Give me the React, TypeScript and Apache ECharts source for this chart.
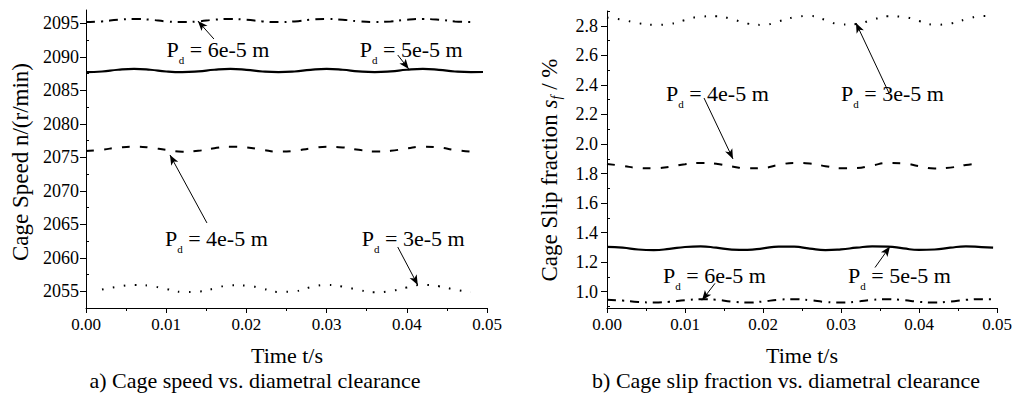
import React, { useEffect, useRef } from "react";
import * as echarts from "echarts";

const FONT = "Liberation Serif";

// time samples (s)
const TIME = [0, 0.002, 0.004, 0.006, 0.008, 0.01, 0.012, 0.014, 0.016, 0.018, 0.02, 0.022, 0.024,
  0.026, 0.028, 0.03, 0.032, 0.034, 0.036, 0.038, 0.04, 0.042, 0.044, 0.046, 0.048, 0.0495];

// a) cage speed n (r/min)
const SPEED_6E5 = [2095.2, 2095.3, 2095.55, 2095.65, 2095.55, 2095.3, 2095.2, 2095.3, 2095.55, 2095.65, 2095.55, 2095.3, 2095.2,
  2095.3, 2095.55, 2095.65, 2095.55, 2095.3, 2095.2, 2095.3, 2095.55, 2095.65, 2095.55, 2095.3, 2095.2, null];
const SPEED_5E5 = [2087.72, 2087.82, 2088.08, 2088.2, 2088.08, 2087.82, 2087.72, 2087.83, 2088.08, 2088.2, 2088.07, 2087.82, 2087.72,
  2087.82, 2088.07, 2088.2, 2088.08, 2087.83, 2087.72, 2087.83, 2088.08, 2088.2, 2088.07, 2087.82, 2087.72, 2087.74];
const SPEED_4E5 = [2075.95, 2076.15, 2076.45, 2076.6, 2076.45, 2076.1, 2075.85, 2075.98, 2076.35, 2076.58, 2076.48, 2076.12, 2075.85,
  2075.97, 2076.33, 2076.58, 2076.48, 2076.12, 2075.86, 2075.97, 2076.33, 2076.58, 2076.48, 2076.1, 2075.85, null];
const SPEED_3E5 = [null, 2055.25, 2055.7, 2055.95, 2055.8, 2055.35, 2054.9, 2054.95, 2055.4, 2055.9, 2055.85, 2055.4, 2054.9,
  2055.0, 2055.6, 2055.95, 2055.7, 2055.2, 2054.85, 2055.05, 2055.55, 2055.95, 2055.75, 2055.25, 2054.9, null];

// b) cage slip fraction (%)
const SLIP_3E5 = [2.855, 2.84, 2.818, 2.806, 2.812, 2.838, 2.862, 2.865, 2.845, 2.815, 2.806, 2.83, 2.858,
  2.866, 2.84, 2.808, 2.812, 2.84, 2.864, 2.86, 2.832, 2.807, 2.815, 2.843, 2.865, 2.866];
const SLIP_4E5 = [1.865, 1.852, 1.838, 1.835, 1.845, 1.863, 1.872, 1.866, 1.848, 1.835, 1.838, 1.858, 1.872,
  1.868, 1.85, 1.835, 1.837, 1.855, 1.871, 1.869, 1.85, 1.834, 1.84, 1.858, 1.871, null];
const SLIP_5E5 = [1.303, 1.298, 1.286, 1.282, 1.29, 1.303, 1.307, 1.298, 1.285, 1.283, 1.294, 1.306, 1.305,
  1.292, 1.282, 1.287, 1.298, 1.307, 1.306, 1.293, 1.283, 1.286, 1.298, 1.307, 1.302, 1.298];
const SLIP_6E5 = [0.945, 0.94, 0.931, 0.927, 0.932, 0.942, 0.949, 0.946, 0.933, 0.927, 0.934, 0.946, 0.95,
  0.943, 0.931, 0.927, 0.933, 0.945, 0.95, 0.943, 0.932, 0.927, 0.934, 0.945, 0.95, 0.949];

// axis ticks
const X_MAJOR_MAX = 0.05;
const SPEED_MAJOR = [2055, 2060, 2065, 2070, 2075, 2080, 2085, 2090, 2095];
const SPEED_MINOR = [2057.5, 2062.5, 2067.5, 2072.5, 2077.5, 2082.5, 2087.5, 2092.5];
const SLIP_MAJOR = [1.0, 1.2, 1.4, 1.6, 1.8, 2.0, 2.2, 2.4, 2.6, 2.8];
const SLIP_MINOR = [0.9, 1.1, 1.3, 1.5, 1.7, 1.9, 2.1, 2.3, 2.5, 2.7, 2.9];

// annotation labels (P_d values) and anchors in data coordinates
const SPEED_LABELS = ["6e-5", "5e-5", "4e-5", "3e-5"];
const SPEED_LABEL_AT = [[0.01005, 2091.12], [0.03414, 2091.12], [0.00984, 2062.9], [0.03439, 2062.9]];
const SPEED_ARROWS = [
  [[0.01595, 2092.67], [0.01395, 2095.36]],
  [[0.03887, 2090.28], [0.04024, 2088.19]],
  [[0.01508, 2065.2], [0.01047, 2075.35]],
  [[0.03887, 2061.61], [0.04137, 2055.93]],
];
const SLIP_LABELS = ["4e-5", "3e-5", "6e-5", "5e-5"];
const SLIP_LABEL_AT = [[0.00756, 2.343], [0.03, 2.343], [0.00718, 1.111], [0.0309, 1.111]];
const SLIP_ARROWS = [
  [[0.01244, 2.311], [0.01615, 1.899]],
  [[0.03615, 2.345], [0.03192, 2.819]],
  [[0.01385, 1.057], [0.01218, 0.942]],
  [[0.03436, 1.164], [0.03628, 1.306]],
];

const SOLID = { type: "solid" as any, width: 2.2 };
const DASHED = { type: [8, 10] as any, width: 2 };
const DOTTED = { type: [1.6, 9.4] as any, width: 2 };
const DASHDOT = { type: [9, 6, 2, 6] as any, width: 2 };

function pairs(vals: (number | null)[]) {
  return TIME.map((t, i) => [t, vals[i]]);
}

function arrowLines(arrows: number[][][]) {
  return {
    silent: true,
    symbol: ["none", "arrow"],
    label: { show: false },
    emphasis: { disabled: true },
    lineStyle: { color: "#000", width: 1, type: "solid" },
    data: arrows.map(([a, b]) => [
      { coord: a, symbol: "none" },
      { coord: b, symbol: "arrow", symbolSize: [6, 10] },
    ]),
  };
}

function line(name: string, vals: (number | null)[], style: any, xi: number, yi: number, extra: any = {}) {
  return {
    name,
    type: "line",
    xAxisIndex: xi,
    yAxisIndex: yi,
    data: pairs(vals),
    smooth: 0.5,
    showSymbol: false,
    symbol: "none",
    silent: true,
    lineStyle: { color: "#000", cap: "butt", ...style },
    ...extra,
  };
}

function xAxis(gridIndex: number) {
  return {
    type: "value",
    gridIndex,
    min: 0,
    max: X_MAJOR_MAX,
    interval: 0.01,
    axisLine: { show: true, onZero: false, lineStyle: { color: "#000", width: 1 } },
    axisTick: { show: true, length: 5, lineStyle: { color: "#000" } },
    minorTick: { show: true, splitNumber: 2, length: 3, lineStyle: { color: "#000" } },
    splitLine: { show: false },
    minorSplitLine: { show: false },
    axisLabel: {
      color: "#000",
      fontFamily: FONT,
      fontSize: 17,
      margin: 8,
      formatter: (v: number) => v.toFixed(2),
    },
  };
}

function yAxes(gridIndex: number, min: number, max: number, major: number[], minor: number[], digits: number, margin: number) {
  return [
    {
      type: "value",
      gridIndex,
      min,
      max,
      axisLine: { show: true, onZero: false, lineStyle: { color: "#000", width: 1 } },
      axisTick: { show: true, length: 6, customValues: major, lineStyle: { color: "#000" } },
      splitLine: { show: false },
      axisLabel: {
        color: "#000",
        fontFamily: FONT,
        fontSize: 18,
        margin,
        customValues: major,
        formatter: (v: number) => v.toFixed(digits),
      },
    },
    {
      type: "value",
      gridIndex,
      min,
      max,
      axisLine: { show: false },
      axisTick: { show: true, length: 3, customValues: minor, lineStyle: { color: "#000" } },
      splitLine: { show: false },
      axisLabel: { show: false },
    },
  ];
}

const ANN_RICH = {
  n: { fontFamily: FONT, fontSize: 22, lineHeight: 33, fill: "#000", color: "#000" },
  s: { fontFamily: FONT, fontSize: 11, lineHeight: 12, verticalAlign: "bottom", fill: "#000", color: "#000" },
};

export default function App() {
  const ref = useRef<HTMLDivElement>(null);

  useEffect(() => {
    if (!ref.current) return;
    const chart = echarts.init(ref.current, undefined, { renderer: "svg" });

    const option: any = {
      animation: false,
      backgroundColor: "#fff",
      textStyle: { fontFamily: FONT },
      grid: [
        { left: 86, top: 10, width: 401, height: 298, containLabel: false },
        { left: 607, top: 11, width: 390, height: 297, containLabel: false },
      ],
      xAxis: [xAxis(0), xAxis(1)],
      yAxis: [
        ...yAxes(0, 2052.5, 2097, SPEED_MAJOR, SPEED_MINOR, 0, 7),
        ...yAxes(1, 0.89, 2.9, SLIP_MAJOR, SLIP_MINOR, 1, 9),
      ],
      series: [
        line("n 6e-5", SPEED_6E5, DASHDOT, 0, 0, { markLine: arrowLines(SPEED_ARROWS) }),
        line("n 5e-5", SPEED_5E5, SOLID, 0, 0),
        line("n 4e-5", SPEED_4E5, DASHED, 0, 0),
        line("n 3e-5", SPEED_3E5, DOTTED, 0, 0),
        line("s 3e-5", SLIP_3E5, DOTTED, 1, 2, { markLine: arrowLines(SLIP_ARROWS) }),
        line("s 4e-5", SLIP_4E5, DASHED, 1, 2),
        line("s 5e-5", SLIP_5E5, SOLID, 1, 2),
        line("s 6e-5", SLIP_6E5, DASHDOT, 1, 2),
      ],
    };
    chart.setOption(option);

    const annText = (label: string) => `{n|P}{s|d}{n| = ${label} m}`;
    const anns: any[] = [];
    SPEED_LABEL_AT.forEach((p, i) => {
      const [x, y] = chart.convertToPixel({ xAxisIndex: 0, yAxisIndex: 0 }, p) as number[];
      anns.push({ type: "text", x, y, silent: true, style: { text: annText(SPEED_LABELS[i]), rich: ANN_RICH, align: "left", verticalAlign: "middle", fill: "#000" } });
    });
    SLIP_LABEL_AT.forEach((p, i) => {
      const [x, y] = chart.convertToPixel({ xAxisIndex: 1, yAxisIndex: 2 }, p) as number[];
      anns.push({ type: "text", x, y, silent: true, style: { text: annText(SLIP_LABELS[i]), rich: ANN_RICH, align: "left", verticalAlign: "middle", fill: "#000" } });
    });

    const plain = (text: string, x: number, y: number, size: number, rotation = 0) => ({
      type: "text", x, y, rotation, silent: true,
      style: { text, fontFamily: FONT, fontSize: size, fill: "#000", align: "center", verticalAlign: "middle" },
    });

    chart.setOption({
      graphic: [
        plain("Time t/s", 287, 355, 22),
        plain("Time t/s", 802, 355, 22),
        plain("a) Cage speed vs. diametral clearance", 255, 380, 22),
        plain("b) Cage slip fraction vs. diametral clearance", 786, 380, 22),
        plain("Cage Speed n/(r/min)", 20, 162, 23, Math.PI / 2),
        {
          type: "text", x: 549, y: 170, rotation: Math.PI / 2, silent: true,
          style: {
            text: "{n|Cage Slip fraction }{i|s}{f|f}{n| / %}",
            align: "center", verticalAlign: "middle", fill: "#000",
            rich: {
              n: { fontFamily: FONT, fontSize: 23, lineHeight: 28 },
              i: { fontFamily: FONT, fontSize: 23, fontStyle: "italic", lineHeight: 28 },
              f: { fontFamily: FONT, fontSize: 14, fontStyle: "italic", lineHeight: 14, verticalAlign: "bottom" },
            },
          },
        },
        ...anns,
      ],
    });

    return () => chart.dispose();
  }, []);

  return (
    <div
      ref={ref}
      style={{ position: "fixed", left: 0, top: 0, width: 1029, height: 395, background: "#fff" }}
    />
  );
}
